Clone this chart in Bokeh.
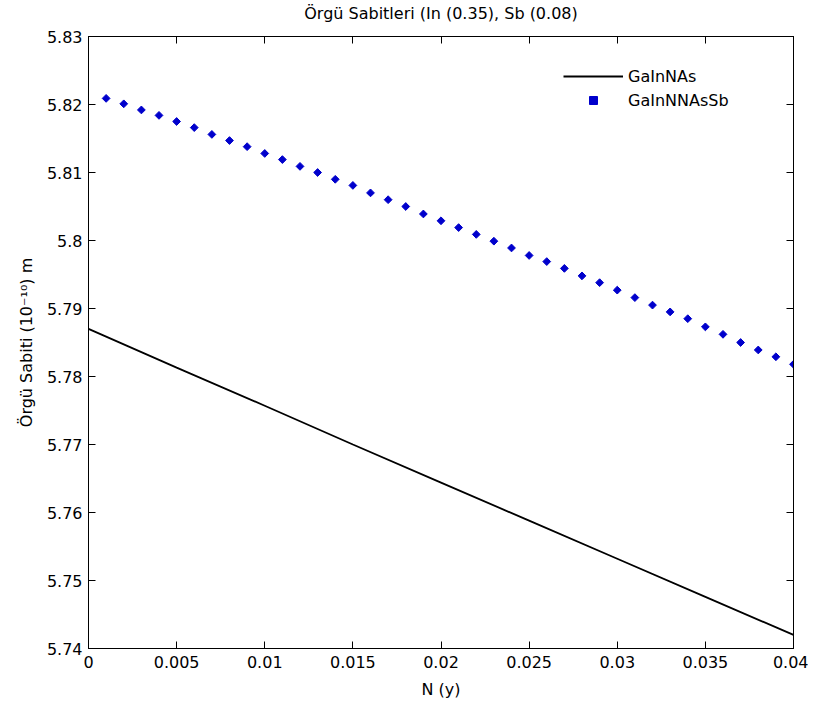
import math
from bokeh.plotting import figure
from bokeh.models import Range1d, FixedTicker, LinearAxis, Legend, LegendItem
from bokeh.embed import file_html
from bokeh.resources import INLINE

# ---- data ----
x_line = [0.0, 0.005, 0.01, 0.015, 0.02, 0.025, 0.03, 0.035, 0.04]
y_gainnas = [5.7870, 5.7813, 5.7757, 5.7700, 5.7644, 5.7588, 5.7532, 5.7476, 5.7420]

x_dots = [0.001, 0.002, 0.003, 0.004, 0.005, 0.006, 0.007, 0.008, 0.009, 0.010,
          0.011, 0.012, 0.013, 0.014, 0.015, 0.016, 0.017, 0.018, 0.019, 0.020,
          0.021, 0.022, 0.023, 0.024, 0.025, 0.026, 0.027, 0.028, 0.029, 0.030,
          0.031, 0.032, 0.033, 0.034, 0.035, 0.036, 0.037, 0.038, 0.039, 0.040]
y_gainnassb = [5.8209, 5.8201, 5.8192, 5.8184, 5.8175, 5.8166, 5.8156, 5.8147, 5.8138, 5.8128,
               5.8119, 5.8109, 5.8100, 5.8090, 5.8081, 5.8070, 5.8060, 5.8050, 5.8039, 5.8029,
               5.8019, 5.8009, 5.7999, 5.7989, 5.7978, 5.7969, 5.7959, 5.7948, 5.7938, 5.7927,
               5.7916, 5.7905, 5.7895, 5.7885, 5.7873, 5.7862, 5.7850, 5.7839, 5.7829, 5.7818]

x_ticks = [0.0, 0.005, 0.01, 0.015, 0.02, 0.025, 0.03, 0.035, 0.04]
x_tick_labels = ["0", "0.005", "0.01", "0.015", "0.02", "0.025", "0.03", "0.035", "0.04"]
y_ticks = [5.74, 5.75, 5.76, 5.77, 5.78, 5.79, 5.80, 5.81, 5.82, 5.83]
y_tick_labels = ["5.74", "5.75", "5.76", "5.77", "5.78", "5.79", "5.8", "5.81", "5.82", "5.83"]

title_text = "Örgü Sabitleri (In (0.35), Sb (0.08)"
x_label = "N (y)"
y_label = "Örgü Sabiti (10⁻¹⁰) m"
series_names = ["GaInNAs", "GaInNNAsSb"]

FONT = "DejaVu Sans"
FS = "16px"

p = figure(width=808, height=701, output_backend="svg", toolbar_location=None,
           x_range=Range1d(0, 0.04), y_range=Range1d(5.74, 5.83),
           min_border_left=88, min_border_right=15, min_border_top=36, min_border_bottom=52)
p.background_fill_color = "white"
p.border_fill_color = "white"
p.outline_line_color = "black"
p.outline_line_width = 1
p.xgrid.visible = False
p.ygrid.visible = False

xt = FixedTicker(ticks=x_ticks)
yt = FixedTicker(ticks=y_ticks)

def style_axis(ax, ticker, labels, show_labels=True):
    ax.ticker = ticker
    ax.axis_line_color = "black"
    ax.major_tick_line_color = "black"
    ax.major_tick_in = 7
    ax.major_tick_out = 0
    ax.minor_tick_line_color = None
    ax.major_label_text_font = FONT
    ax.major_label_text_color = "black"
    ax.major_label_text_font_size = FS
    ax.axis_label_text_font = FONT
    ax.axis_label_text_font_style = "normal"
    ax.axis_label_text_color = "black"
    ax.axis_label_text_font_size = FS
    if show_labels:
        ax.major_label_overrides = dict(zip(ticker.ticks, labels))
    else:
        ax.major_label_overrides = {t: "" for t in ticker.ticks}
        ax.major_label_standoff = 0

style_axis(p.xaxis[0], xt, x_tick_labels)
p.xaxis[0].major_label_standoff = 7
p.xaxis[0].axis_label = x_label
p.xaxis[0].axis_label_standoff = 9

style_axis(p.yaxis[0], yt, y_tick_labels)
p.yaxis[0].major_label_standoff = 6
p.yaxis[0].axis_label = y_label
p.yaxis[0].axis_label_standoff = 8

top_ax = LinearAxis()
style_axis(top_ax, xt, x_tick_labels, show_labels=False)
top_ax.axis_label = title_text
top_ax.axis_label_standoff = 14
p.add_layout(top_ax, "above")

right_ax = LinearAxis()
style_axis(right_ax, yt, y_tick_labels, show_labels=False)
p.add_layout(right_ax, "right")

r_line = p.line(x_line, y_gainnas, line_color="black", line_width=1.8)
r_dots = p.scatter(x_dots, y_gainnassb, marker="square", size=5.5, angle=math.pi / 4,
                   fill_color="#0000CC", line_color="#0000CC")

legend = Legend(items=[LegendItem(label=series_names[0], renderers=[r_line]),
                       LegendItem(label=series_names[1], renderers=[r_dots])],
                location="top_right")
legend.label_text_font = FONT
legend.label_text_font_size = FS
legend.label_text_color = "black"
legend.glyph_width = 60
legend.glyph_height = 20
legend.label_height = 20
legend.label_width = 135
legend.label_standoff = 5
legend.spacing = 4
legend.padding = 10
legend.margin = 30
legend.border_line_color = None
legend.background_fill_color = "white"
legend.background_fill_alpha = 1.0
p.add_layout(legend, "center")

open("out.html", "w").write(file_html(p, INLINE))
